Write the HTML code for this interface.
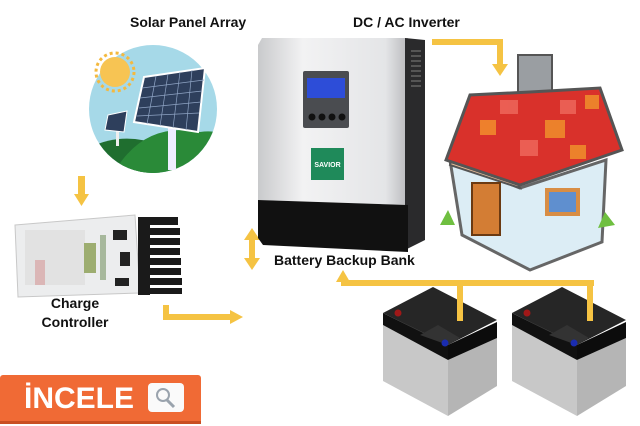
<!DOCTYPE html>
<html><head><meta charset="utf-8"><style>
html,body{margin:0;padding:0;background:#fff;width:640px;height:426px;overflow:hidden}
svg{display:block}
text{font-family:"Liberation Sans",Arial,sans-serif;font-weight:bold}
</style></head><body>
<svg width="640" height="426" viewBox="0 0 640 426" xmlns="http://www.w3.org/2000/svg">
<defs>
<linearGradient id="inv" x1="0" x2="1"><stop offset="0" stop-color="#c9cacc"/><stop offset="0.3" stop-color="#f2f2f3"/><stop offset="0.85" stop-color="#e4e5e7"/><stop offset="1" stop-color="#b9babd"/></linearGradient>
<clipPath id="cc"><circle cx="153" cy="109" r="64"/></clipPath>
</defs>

<text x="130" y="27" font-size="14" fill="#111">Solar Panel Array</text>
<text x="353" y="27" font-size="14" fill="#111">DC / AC Inverter</text>
<text x="274" y="265" font-size="14" fill="#111">Battery Backup Bank</text>
<text x="75" y="308" font-size="14" fill="#111" text-anchor="middle">Charge</text>
<text x="75" y="327" font-size="14" fill="#111" text-anchor="middle">Controller</text>

<g clip-path="url(#cc)">
<rect x="85" y="40" width="140" height="140" fill="#a6d9e8"/>
<path d="M85 150 Q120 130 160 145 L160 180 L85 180Z" fill="#1f6e2f"/>
<path d="M110 180 Q140 120 200 132 Q215 130 225 135 L225 180Z" fill="#2a8a38"/>
</g>
<circle cx="115" cy="72" r="15" fill="#f7c453"/>
<circle cx="115" cy="72" r="19" fill="none" stroke="#f4b93f" stroke-width="3" stroke-dasharray="3 3"/>
<rect x="168" y="125" width="8" height="45" fill="#eef"/>
<rect x="116" y="128" width="3" height="18" fill="#eee"/>
<polygon points="144,77 205,68 198,132 134,122" fill="#2e3f5c" stroke="#fff" stroke-width="2"/>
<g stroke="#8fa4c4" stroke-width="0.7">
<line x1="142" y1="88" x2="204" y2="80"/><line x1="140" y1="98" x2="202" y2="91"/><line x1="139" y1="108" x2="201" y2="102"/><line x1="137" y1="116" x2="199" y2="113"/>
<line x1="156" y1="76" x2="147" y2="124"/><line x1="168" y1="74" x2="160" y2="126"/><line x1="180" y1="72" x2="173" y2="128"/><line x1="192" y1="70" x2="186" y2="130"/>
</g>
<polygon points="108,115 127,111 124,132 105,130" fill="#2e3f5c" stroke="#fff" stroke-width="1"/>

<g fill="#f5c343" stroke="none">
<rect x="78" y="176" width="7" height="20"/><polygon points="74,194 89,194 81.5,206"/>
<rect x="163" y="305" width="6" height="13"/><rect x="163" y="314" width="70" height="6"/><polygon points="230,310 243,317 230,324"/>
<rect x="249" y="236" width="6" height="26"/><polygon points="244,240 260,240 252,228"/><polygon points="244,258 260,258 252,270"/>
<rect x="432" y="39" width="71" height="6"/><rect x="497" y="39" width="6" height="28"/><polygon points="492,64 508,64 500,76"/>
<rect x="341" y="280" width="253" height="6"/>
<polygon points="336,282 350,282 343,270"/>
</g>

<polygon points="15,225 135,215 140,293 18,297" fill="#ecedee" stroke="#c8c8c8"/>
<rect x="25" y="230" width="60" height="55" fill="#e2e2e2"/>
<rect x="35" y="260" width="10" height="25" fill="#d79a9a" opacity="0.6"/>
<rect x="84" y="243" width="12" height="30" fill="#9dad70"/>
<rect x="100" y="235" width="6" height="45" fill="#a7b89c"/>
<g fill="#222"><rect x="113" y="230" width="14" height="10"/><rect x="120" y="252" width="10" height="14"/><rect x="115" y="278" width="14" height="8"/></g>
<g fill="#1a1a1a">
<rect x="138" y="217" width="40" height="8"/><rect x="138" y="228" width="42" height="7"/><rect x="138" y="238" width="42" height="7"/><rect x="138" y="248" width="42" height="7"/><rect x="138" y="258" width="43" height="7"/><rect x="138" y="268" width="43" height="7"/><rect x="138" y="278" width="44" height="7"/><rect x="138" y="288" width="44" height="6"/>
<rect x="138" y="217" width="12" height="78"/>
</g>

<polygon points="258,45 262,38 408,38 408,205 258,200" fill="url(#inv)"/>
<polygon points="405,38 425,40 425,240 405,250" fill="#2a2a2c"/>
<g fill="#555"><rect x="411" y="50" width="10" height="2"/><rect x="411" y="55" width="10" height="2"/><rect x="411" y="60" width="10" height="2"/><rect x="411" y="65" width="10" height="2"/><rect x="411" y="70" width="10" height="2"/><rect x="411" y="75" width="10" height="2"/><rect x="411" y="80" width="10" height="2"/><rect x="411" y="85" width="10" height="2"/></g>
<polygon points="258,200 408,205 408,252 263,245 258,238" fill="#111"/>
<rect x="303" y="71" width="46" height="57" rx="2" fill="#4a4c50"/>
<rect x="307" y="78" width="38" height="20" fill="#2d4dd8"/>
<g fill="#111"><circle cx="312" cy="117" r="3.5"/><circle cx="322" cy="117" r="3.5"/><circle cx="332" cy="117" r="3.5"/><circle cx="342" cy="117" r="3.5"/></g>
<rect x="311" y="148" width="33" height="32" fill="#1f8a5a"/>
<text x="327.5" y="167" font-size="7" fill="#fff" text-anchor="middle">SAVIOR</text>

<rect x="518" y="55" width="34" height="40" fill="#9a9ea2" stroke="#555" stroke-width="2"/>
<polygon points="450,160 462,235 530,270 602,242 606,160 520,188" fill="#dcedf5" stroke="#666" stroke-width="3"/>
<polygon points="450,165 470,100 520,188" fill="#f2c29a" stroke="#555" stroke-width="2"/>
<polygon points="446,160 470,95 530,92 600,88 622,150 520,185" fill="#d9312b" stroke="#555" stroke-width="3"/>
<g fill="#ef8a2c" opacity="0.9"><rect x="545" y="120" width="20" height="18"/><rect x="585" y="95" width="14" height="14"/><rect x="480" y="120" width="16" height="15"/><rect x="570" y="145" width="16" height="14"/></g>
<g fill="#ef6a5e" opacity="0.8"><rect x="500" y="100" width="18" height="14"/><rect x="560" y="100" width="16" height="14"/><rect x="520" y="140" width="18" height="16"/></g>
<rect x="472" y="183" width="28" height="52" fill="#d37d34" stroke="#6b3a12" stroke-width="2"/>
<rect x="545" y="188" width="35" height="28" fill="#d88d44"/>
<rect x="549" y="192" width="27" height="20" fill="#5f8fcf"/>
<path d="M440 225 L448 210 L455 225Z M598 228 L605 212 L615 225Z" fill="#6fbf40"/>

<!-- batteries -->
<g id="b1">
<polygon points="383,325 448,360 448,416 383,381" fill="#c8c8c8"/>
<polygon points="448,360 497,338 497,386 448,416" fill="#b5b5b5"/>
<polygon points="383,313 448,345 448,360 383,325" fill="#111"/>
<polygon points="448,345 497,322 497,338 448,360" fill="#0c0c0c"/>
<polygon points="383,313 433,287 497,320 448,345" fill="#262626"/>
<polygon points="420,335 438,325 460,338 448,345" fill="#333"/>
<circle cx="398" cy="313" r="3.5" fill="#a01818"/><circle cx="445" cy="343" r="3.5" fill="#1a2cb0"/>
</g>
<g transform="translate(129,0)">
<polygon points="383,325 448,360 448,416 383,381" fill="#c8c8c8"/>
<polygon points="448,360 497,338 497,386 448,416" fill="#b5b5b5"/>
<polygon points="383,313 448,345 448,360 383,325" fill="#111"/>
<polygon points="448,345 497,322 497,338 448,360" fill="#0c0c0c"/>
<polygon points="383,313 433,287 497,320 448,345" fill="#262626"/>
<polygon points="420,335 438,325 460,338 448,345" fill="#333"/>
<circle cx="398" cy="313" r="3.5" fill="#a01818"/><circle cx="445" cy="343" r="3.5" fill="#1a2cb0"/>
</g>
<rect x="457" y="283" width="6" height="38" fill="#f5c343"/><rect x="587" y="283" width="6" height="38" fill="#f5c343"/>

<rect x="0" y="375" width="201" height="49" rx="3" fill="#f06a35"/>
<rect x="0" y="421" width="201" height="3" fill="#c94f22"/>
<text x="24" y="408" font-size="30" fill="#fff">İNCELE</text>
<rect x="148" y="383" width="36" height="29" rx="4" fill="#fafafa"/>
<circle cx="163" cy="395" r="6" fill="none" stroke="#9aa3ad" stroke-width="2"/>
<line x1="167" y1="400" x2="174" y2="407" stroke="#9aa3ad" stroke-width="3"/>
</svg>
</body></html>
